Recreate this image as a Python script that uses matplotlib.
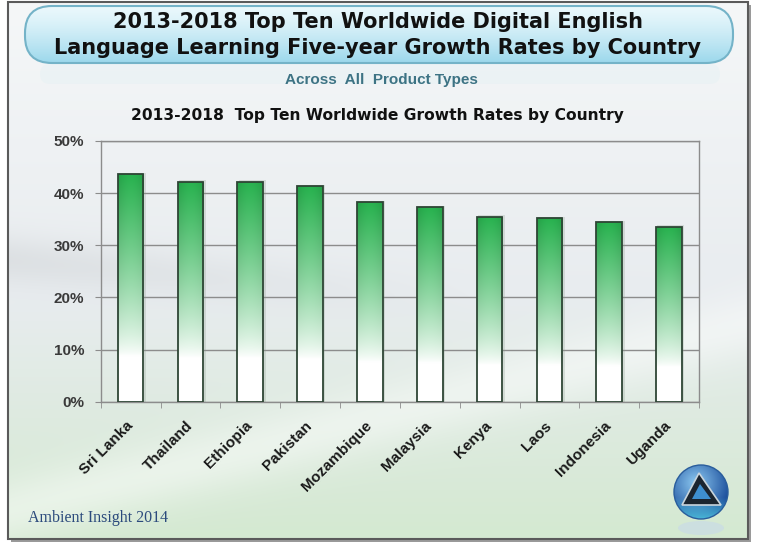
import numpy as np
import matplotlib
matplotlib.use('Agg')
import matplotlib.pyplot as plt
import matplotlib.transforms as mtransforms
from matplotlib.patches import FancyBboxPatch, Rectangle, Circle, Polygon, Ellipse
from matplotlib.ticker import PercentFormatter, FixedLocator

countries = ['Sri Lanka', 'Thailand', 'Ethiopia', 'Pakistan', 'Mozambique',
             'Malaysia', 'Kenya', 'Laos', 'Indonesia', 'Uganda']
growth = [43.6, 42.2, 42.2, 41.4, 38.3, 37.3, 35.5, 35.2, 34.5, 33.6]
yticks = [0, 10, 20, 30, 40, 50]

title1 = '2013-2018 Top Ten Worldwide Digital English'
title2 = 'Language Learning Five-year Growth Rates by Country'
subtitle = 'Across  All  Product Types'
chart_title = '2013-2018  Top Ten Worldwide Growth Rates by Country'
credit = 'Ambient Insight 2014'

plt.rcParams['font.family'] = ['Liberation Sans', 'DejaVu Sans']

W, H = 763, 547
fig = plt.figure(figsize=(W / 100, H / 100), dpi=100)
fig.patch.set_facecolor('white')

# background layer in pixel coordinates
bg = fig.add_axes([0, 0, 1, 1], zorder=0)
bg.set_xlim(0, W)
bg.set_ylim(H, 0)
bg.axis('off')

def hexrgb(h):
    h = h.lstrip('#')
    return np.array([int(h[i:i + 2], 16) / 255 for i in (0, 2, 4)])

# frame shadow + frame
bg.add_patch(Rectangle((11, 5), 740, 537, facecolor='#9a9a9a', edgecolor='none', zorder=0))
frame = Rectangle((8, 2), 740, 537, facecolor='none', edgecolor='#5a5a5a', lw=1.5, zorder=3)
yy = np.linspace(0, 1, 200)[:, None]
xx = np.linspace(0, 1, 200)[None, :]
c_top = hexrgb('#f5f7f8')
c_mid = hexrgb('#e8ecef')
c_bot = hexrgb('#d4e9d1')
grad = np.where(yy[..., None] < 0.55,
                c_top + (c_mid - c_top) * (yy[..., None] / 0.55),
                c_mid + (c_bot - c_mid) * ((yy[..., None] - 0.55) / 0.45))
grad = np.broadcast_to(grad, (200, 200, 3)).copy()
# soft light swoosh towards the lower right
sw = np.exp(-((yy - (0.95 - 0.35 * xx)) ** 2) / 0.004)
grad = grad + (1 - grad) * 0.45 * sw[..., None]
# faint grey swoosh on the left
gs = np.exp(-((yy - (0.48 + 0.12 * xx)) ** 2) / 0.002) * np.clip(1 - xx * 1.6, 0, 1)
grad = grad - 0.05 * gs[..., None]
grad = np.clip(grad, 0, 1)
bg.imshow(grad, extent=[8, 748, 539, 2], aspect='auto', interpolation='bilinear', zorder=1)
bg.add_patch(frame)

# title banner
banner = FancyBboxPatch((25, 6), 708, 57, boxstyle='round,pad=0,rounding_size=27',
                        facecolor='none', edgecolor='#74b3c8', lw=1.5, zorder=5)
bg.add_patch(banner)
t = np.linspace(0, 1, 100)[:, None]
b_top = hexrgb('#eaf8fc')
b_bot = hexrgb('#9cd8ec')
bgrad = b_top + (b_bot - b_top) * (t ** 1.3)[..., None]
bgrad = np.broadcast_to(bgrad, (100, 100, 3)).copy()
bim = bg.imshow(bgrad, extent=[25, 733, 63, 6], aspect='auto', zorder=4)
bim.set_clip_path(banner)
# faint reflection under the banner
refl = FancyBboxPatch((40, 64), 680, 20, boxstyle='round,pad=0,rounding_size=10',
                      facecolor='#dceef4', edgecolor='none', alpha=0.25, zorder=2)
bg.add_patch(refl)

bg.text(378, 28.5, title1, ha='center', va='baseline', fontsize=15, fontweight='bold',
        family='DejaVu Sans', color='#111111', zorder=6)
bg.text(378, 53.5, title2, ha='center', va='baseline', fontsize=15, fontweight='bold',
        family='DejaVu Sans', color='#111111', zorder=6)
bg.text(381, 84, subtitle, ha='center', va='baseline', fontsize=11, fontweight='bold',
        color='#3d7384', zorder=6)
bg.text(377, 120, chart_title, ha='center', va='baseline', fontsize=11.2, fontweight='bold',
        family='DejaVu Sans', color='#111111', zorder=6)
bg.text(28, 518, credit, ha='left', va='center', fontsize=11.5, family='Liberation Serif',
        color='#2b4a7c', zorder=6)

# logo
cx, cy, r = 701, 492, 27
bg.add_patch(Ellipse((cx, cy + 36), 46, 14, facecolor='#c9dbe6', edgecolor='none',
                     alpha=0.7, zorder=5))
disc = Circle((cx, cy), r, facecolor='none', edgecolor='#2a5d9c', lw=1, zorder=7)
bg.add_patch(disc)
gy, gx = np.mgrid[-1:1:120j, -1:1:120j]
d = np.sqrt((gx + 0.2) ** 2 + (gy + 0.35) ** 2)
l_c = hexrgb('#8cc8f0')
d_c = hexrgb('#1c4f9c')
lg = l_c + (d_c - l_c) * np.clip(d / 1.3, 0, 1)[..., None]
low = np.clip((gy - 0.2) / 0.8, 0, 1)[..., None]
lg = lg + (hexrgb('#56d0e6') - lg) * low * 0.8
lim = bg.imshow(np.clip(lg, 0, 1), extent=[cx - r, cx + r, cy + r, cy - r],
                aspect='auto', zorder=6)
lim.set_clip_path(disc)
bg.add_patch(Polygon([(cx - 2, cy - 19), (cx - 19, cy + 13), (cx + 20, cy + 13)],
                     closed=True, facecolor='#1b2530', edgecolor='#c8d4dc', lw=1.2, zorder=8))
bg.add_patch(Polygon([(cx - 1, cy - 8), (cx - 9, cy + 7), (cx + 10, cy + 7)],
                     closed=True, facecolor='#3e8fd0', edgecolor='none', zorder=9))

# chart axes
x0, x1, y0, y1 = 100.7, 699, 141, 401.7
ax = fig.add_axes([x0 / W, 1 - y1 / H, (x1 - x0) / W, (y1 - y0) / H], zorder=2)
ax.patch.set_alpha(0)

xpos = np.arange(len(countries))
bw = 0.43
green = hexrgb('#28b24f')
tt = np.linspace(0, 1, 200)[:, None]
f = np.clip((tt - 0.2) / 0.8, 0, 1) ** 0.8
hx = np.linspace(0, 1, 40)[None, :]
shade = 0.9 + 0.1 * np.sin(np.pi * hx)
bar_img = (1 - f[..., None]) * 1.0 + f[..., None] * green
bar_img = bar_img * (1 - (1 - shade[..., None]) * f[..., None])
bar_img = np.clip(np.broadcast_to(bar_img, (200, 40, 3)), 0, 1)

for xi, v in zip(xpos, growth):
    ax.add_patch(Rectangle((xi - bw / 2 + 0.02, 0), bw + 0.02, v + 0.25, facecolor='#8a9a8c',
                           edgecolor='none', alpha=0.25, zorder=2))
bars = ax.bar(xpos, growth, width=bw, facecolor='none', edgecolor='#2e4535', lw=1.3, zorder=4)
for b in bars:
    bx, bwid, bh = b.get_x(), b.get_width(), b.get_height()
    img = ax.imshow(bar_img, extent=[bx, bx + bwid, 0, bh], origin='lower',
                    aspect='auto', zorder=3)
    img.set_clip_path(b)

ax.set_xlim(-0.5, len(countries) - 0.5)
ax.set_ylim(0, 50)
ax.set_yticks(yticks)
ax.yaxis.set_major_formatter(PercentFormatter(100, decimals=0))
ax.yaxis.grid(True, color='#8c8c8c', lw=1, zorder=1)
ax.set_axisbelow(True)

# category labels, rotated; placed as texts so they can be nudged
ax.set_xticks(xpos)
ax.set_xticklabels([])
shift = mtransforms.ScaledTranslation(-5 / 100, -17 / 100, fig.dpi_scale_trans)
for xi, name in zip(xpos, countries):
    ax.text(xi, 0, name, transform=ax.get_xaxis_transform() + shift,
            rotation=45, ha='right', va='top', rotation_mode='anchor',
            fontsize=11, fontweight='bold', color='#1a1a1a')
ax.xaxis.set_minor_locator(FixedLocator(np.arange(-0.5, len(countries), 1.0)))
ax.tick_params(axis='x', which='major', length=0)
ax.tick_params(axis='x', which='minor', length=4, color='#8c8c8c', direction='out')
ax.tick_params(axis='y', length=4, color='#8c8c8c', pad=8, labelsize=11,
               labelcolor='#3a3a3a')
for lab in ax.get_yticklabels():
    lab.set_fontweight('bold')
for s in ax.spines.values():
    s.set_color('#8c8c8c')
    s.set_linewidth(1)

fig.savefig('out.png', dpi=100)
